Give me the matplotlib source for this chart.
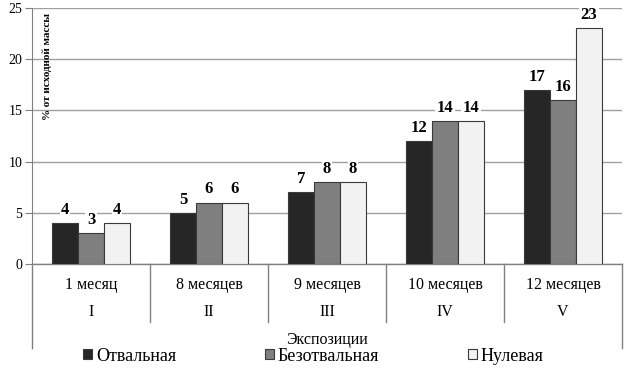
import matplotlib.pyplot as plt
import numpy as np

plt.rcParams['font.family'] = ['Liberation Serif', 'DejaVu Serif']

months = ["1 месяц", "8 месяцев", "9 месяцев", "10 месяцев", "12 месяцев"]
roman = ["I", "II", "III", "IV", "V"]
otval = [4, 5, 7, 12, 17]
bezotval = [3, 6, 8, 14, 16]
nulev = [4, 6, 8, 14, 23]

series = [("Отвальная", otval, "#262626"),
          ("Безотвальная", bezotval, "#7f7f7f"),
          ("Нулевая", nulev, "#f2f2f2")]

fig = plt.figure(figsize=(6.24, 3.74), dpi=100)
ax = fig.add_axes([32 / 624, 110 / 374, 590 / 624, 256 / 374])

x = np.arange(len(months))
w = 0.22
for i, (name, vals, col) in enumerate(series):
    bars = ax.bar(x + (i - 1) * w, vals, w, color=col, edgecolor="#3a3a3a",
                  linewidth=0.8, label=name, zorder=3)
    for b, v in zip(bars, vals):
        ax.text(b.get_x() + b.get_width() / 2, v + 0.5, str(v), ha="center",
                va="bottom", fontsize=12, fontweight="bold", zorder=4,
                bbox=dict(facecolor="white", edgecolor="none", pad=1))

ax.set_xlim(-0.5, len(months) - 0.5)
ax.set_ylim(0, 25)
ax.set_yticks(range(0, 26, 5))
ax.yaxis.grid(True, color="#a0a0a0", linewidth=1)
ax.set_axisbelow(True)
ax.set_xticks([])
for s in ["top", "right", "bottom"]:
    ax.spines[s].set_visible(False)
ax.spines["left"].set_color("#808080")
ax.tick_params(axis="y", length=5, color="#808080", labelsize=10, pad=2)

ax.text(0.025, 0.98, "% от исходной массы", transform=ax.transAxes, rotation=90,
        ha="center", va="top", fontsize=8, fontweight="bold")

# category axis below the plot
tr = ax.get_xaxis_transform()
ax.plot([-0.5, len(months) - 0.5], [0, 0], color="#808080", lw=1, transform=tr, clip_on=False)
for b in np.arange(0.5, len(months) - 1, 1.0):
    ax.plot([b, b], [0, -0.227], color="#808080", lw=1, transform=tr, clip_on=False)
for b in [-0.5, len(months) - 0.5]:
    ax.plot([b, b], [0, -0.328], color="#808080", lw=1, transform=tr, clip_on=False)
for xi, m, r in zip(x, months, roman):
    ax.text(xi, -0.082, m, transform=tr, ha="center", va="center", fontsize=11.5)
    ax.text(xi, -0.188, r, transform=tr, ha="center", va="center", fontsize=11.5)
ax.text(2, -0.296, "Экспозиции", transform=tr, ha="center", va="center", fontsize=11.5)

fig.legend(loc="center", bbox_to_anchor=(0.502, 0.048), ncol=3, frameon=False,
           fontsize=13, handlelength=0.5, handleheight=0.5, handletextpad=0.22,
           columnspacing=4.9, borderpad=0)

fig.savefig("out.png", dpi=100)
